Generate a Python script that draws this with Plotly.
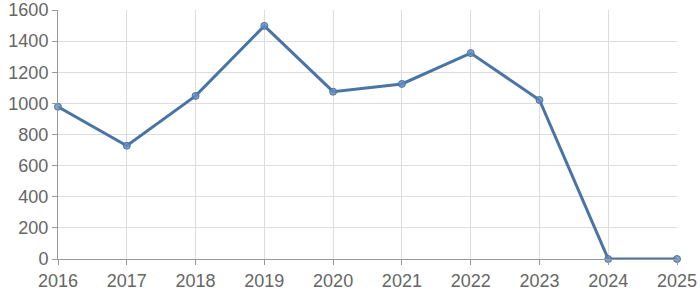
import plotly.graph_objects as go

years = [2016, 2017, 2018, 2019, 2020, 2021, 2022, 2023, 2024, 2025]
values = [978, 728, 1048, 1498, 1075, 1125, 1323, 1022, 0, 0]
y_ticks = [0, 200, 400, 600, 800, 1000, 1200, 1400, 1600]

fig = go.Figure()
fig.add_trace(go.Scatter(
    x=years, y=values, mode="lines+markers",
    line=dict(color="#4a74a5", width=3),
    marker=dict(size=7, color="rgba(100,140,190,0.8)", line=dict(color="#4a74a5", width=1)),
    hoverinfo="x+y",
    cliponaxis=False,
))
fig.update_layout(
    width=700, height=300,
    margin=dict(l=58, r=23, t=10, b=41, autoexpand=False),
    plot_bgcolor="white", paper_bgcolor="white",
    showlegend=False,
    font=dict(family="Liberation Sans, Arial, sans-serif", size=18, color="#666666"),
)
fig.update_xaxes(
    range=[2016, 2025], tickvals=years, ticktext=[str(y) for y in years],
    showgrid=True, gridcolor="#dddddd", gridwidth=1,
    showline=True, linecolor="#999999", linewidth=1,
    ticks="outside", ticklen=5, tickcolor="#999999",
    zeroline=False, automargin=False,
)
fig.update_yaxes(
    range=[0, 1600], tickvals=y_ticks,
    showgrid=True, gridcolor="#dddddd", gridwidth=1,
    showline=True, linecolor="#999999", linewidth=1,
    ticks="outside", ticklen=5, tickcolor="#999999",
    zeroline=False, automargin=False,
)
fig.write_html("out.html")
